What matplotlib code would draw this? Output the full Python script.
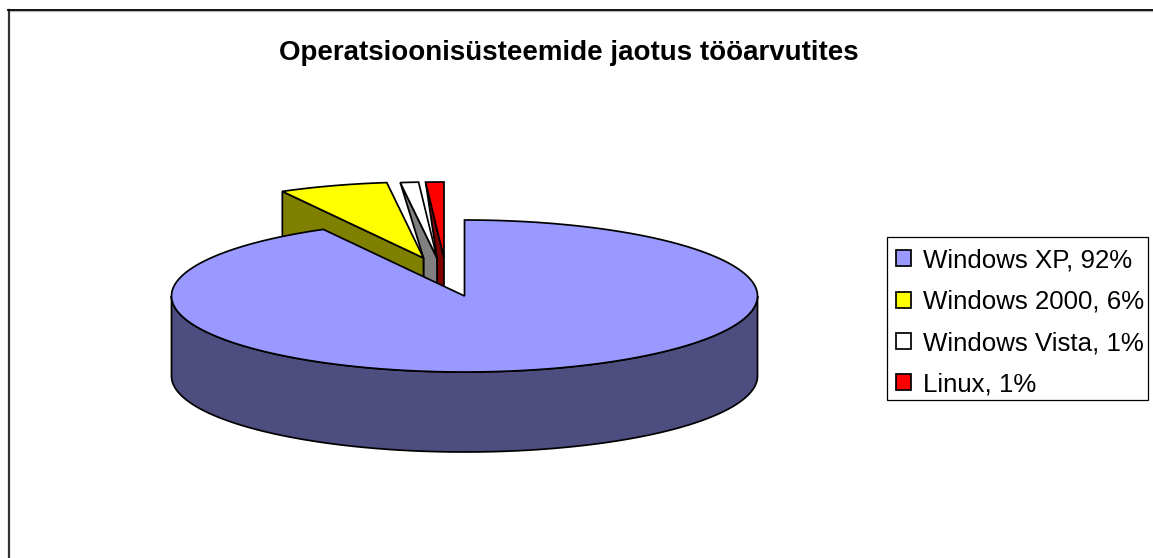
import numpy as np
import matplotlib
matplotlib.use("Agg")
import matplotlib.pyplot as plt
from matplotlib.patches import Polygon, Patch, Rectangle

plt.rcParams['font.family'] = ['Liberation Sans', 'DejaVu Sans']

# andmed
nimed = ["Windows XP", "Windows 2000", "Windows Vista", "Linux"]
osakaal = [92, 6, 1, 1]
pealkiri = "Operatsioonisüsteemide jaotus tööarvutites"

# stiil
varvid = ["#9999FF", "#FFFF00", "#FFFFFF", "#FF0000"]
kulg_varvid = ["#4D4D80", "#808000", "#808080", "#800000"]

# ellipsi mootud ja lahtitoomine (pikslites)
cx, cy = 464.5, 296
rx, ry = 293, 76
sugavus = 80
nihe_x = [0, -41, -27.5, -20.5]
nihe_y = [0, -38, -38, -38]
jl = 1.25


def aare(kx, ky, n1, n2):
    # nurgad kraadides, 0 on kell 12, paripaeva
    t = np.radians(np.linspace(n1, n2, max(int(abs(n2 - n1) * 2), 2)))
    return np.column_stack([kx + rx * np.sin(t), ky - ry * np.cos(t)])


fig = plt.figure(figsize=(11.53, 5.58), dpi=100)
ax = fig.add_axes([0, 0, 1, 1])
ax.set_xlim(0, 1153)
ax.set_ylim(558, 0)
ax.axis("off")

# diagrammi raam, ainult ules ja vasakule
ax.plot([8, 1153], [10.5, 10.5], color="#BBBBBB", lw=1.0)
ax.plot([9, 9], [10, 558], color="#333333", lw=1.6)
ax.plot([8, 1153], [9.5, 9.5], color="black", lw=1.3)

piirid = np.cumsum([0] + osakaal) / sum(osakaal) * 360
tipud = [(cx + nihe_x[i], cy + nihe_y[i]) for i in range(len(osakaal))]

# valjatoodud sektorid tagant ette
for i in [3, 2, 1]:
    kx, ky = tipud[i]
    n1, n2 = piirid[i], piirid[i + 1]
    algus = aare(kx, ky, n1, n1)[0]
    if i == 1:
        kulg = [algus, (kx, ky), (kx, ky + sugavus), (algus[0], algus[1] + sugavus)]
    else:
        px, py = tipud[i - 1]
        kulg = [algus, (kx, ky), (kx, ky + sugavus), (px, py + sugavus), (px, py)]
    ax.add_patch(Polygon(kulg, closed=True, fc=kulg_varvid[i], ec="black", lw=jl, zorder=2 + (3 - i) * 2))
    pind = np.vstack([[(kx, ky)], aare(kx, ky, n1, n2)])
    ax.add_patch(Polygon(pind, closed=True, fc=varvid[i], ec="black", lw=jl, joinstyle="miter", zorder=3 + (3 - i) * 2))

# suur sektor
ees = aare(cx, cy, 90, 270)
kulg = np.vstack([ees, (ees + [0, sugavus])[::-1]])
ax.add_patch(Polygon(kulg, closed=True, fc=kulg_varvid[0], ec="black", lw=jl, zorder=10))
pind = np.vstack([[(cx, cy)], aare(cx, cy, piirid[0], piirid[1])])
ax.add_patch(Polygon(pind, closed=True, fc=varvid[0], ec="black", lw=jl, joinstyle="miter", zorder=11))

ax.text(568.5, 53, pealkiri, fontsize=20, fontweight="bold", ha="center", va="center", color="black")

# legendi raam eraldi, sest read ei ole kastis keskel
ax.add_patch(Rectangle((887, 237), 261, 163, fc="white", ec="black", lw=0.9, zorder=12))
kirjed = [Patch(fc=varvid[i], ec="black", lw=jl, label=f"{nimed[i]}, {osakaal[i]}%") for i in range(len(nimed))]
leg = ax.legend(
    handles=kirjed,
    loc="upper left",
    bbox_to_anchor=(896, 248.5),
    bbox_transform=ax.transData,
    borderaxespad=0,
    fontsize=18.6,
    frameon=False,
    handlelength=0.58,
    handleheight=0.58,
    handletextpad=0.46,
    labelspacing=0.67,
    borderpad=0,
)
leg.set_zorder(13)

plt.savefig("out.png", dpi=100)
